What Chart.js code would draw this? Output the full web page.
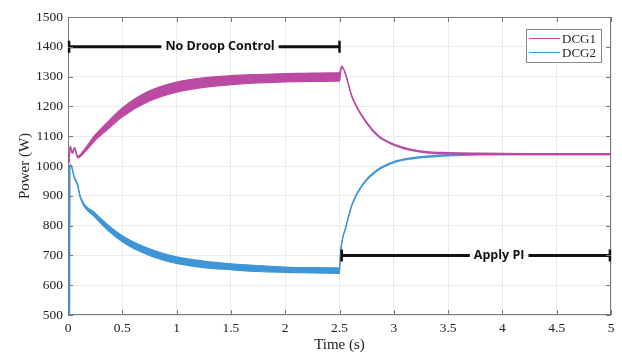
<!DOCTYPE html>
<html>
<head>
<meta charset="utf-8">
<script src="https://cdn.jsdelivr.net/npm/chart.js@4.4.1/dist/chart.umd.min.js"></script>
<style>
  html, body { margin: 0; padding: 0; background: #fff; }
  #wrap { width: 622px; height: 358px; }
</style>
</head>
<body>
<div id="wrap"><canvas id="chartgraph"></canvas></div>
<script>
// DCG1 (magenta) - centre of the oscillation band and its half width (W)
var t1 = [0.01, 0.02, 0.04, 0.06, 0.09, 0.15, 0.25, 0.35, 0.5, 0.75, 1.0, 1.25, 1.5, 1.75, 2.0, 2.25, 2.49, 2.5, 2.52, 2.62, 2.74, 2.86, 3.0, 3.15, 3.3, 3.5, 3.8, 4.2, 5.0];
var p1 = [1010, 1065, 1045, 1060, 1030, 1050, 1095, 1130, 1180, 1235, 1265, 1280, 1288, 1293, 1296, 1298, 1299, 1299, 1333, 1228, 1150, 1100, 1072, 1055, 1046, 1043, 1041, 1040, 1040];
var w1 = [0, 3, 3, 3, 3, 5, 9, 12, 15, 17, 17, 16, 15, 14, 14, 14, 14, 14, 2, 2, 2, 2, 2, 2, 2, 2, 2, 2, 2];

// DCG2 (blue)
var t2 = [0.014, 0.016, 0.022, 0.06, 0.09, 0.11, 0.25, 0.5, 0.75, 1.0, 1.25, 1.5, 1.75, 2.0, 2.25, 2.49, 2.5, 2.51, 2.56, 2.62, 2.71, 2.83, 3.0, 3.17, 3.33, 3.5, 3.8, 4.2, 5.0];
var p2 = [500, 1000, 1005, 960, 935, 900, 835, 756, 711, 684, 670, 662, 656, 652, 650, 649, 649, 710, 797, 875, 936, 981, 1013, 1026, 1032, 1036, 1039, 1040, 1040];
var w2 = [0, 0, 0, 2, 3, 3, 7, 10, 11, 11, 11, 10, 10, 9, 9, 9, 9, 2, 2, 2, 2, 2, 2, 2, 2, 2, 2, 2, 2];

var xTicks = [0, 0.5, 1, 1.5, 2, 2.5, 3, 3.5, 4, 4.5, 5];
var yTicks = [500, 600, 700, 800, 900, 1000, 1100, 1200, 1300, 1400, 1500];

// annotations (arrows)
var annoText = ['No Droop Control', 'Apply PI'];
var annoY = [1400, 700];
var annoFrom = [0.01, 2.52];
var annoTo = [2.5, 4.99];
var annoMid = [1.40, 3.97];

var magenta = '#bb4aa3';
var blue = '#3f96d6';

function band(t, p, w, sign) {
  var out = [];
  for (var i = 0; i < t.length; i++) out.push({x: t[i], y: p[i] + sign * w[i]});
  return out;
}

var boxPlugin = {
  id: 'boxPlugin',
  beforeDatasetsDraw: function(chart) {
    // frame first so the traces sit over it
    var ctx = chart.ctx, a = chart.chartArea;
    ctx.save();
    ctx.strokeStyle = '#7a7a7a';
    ctx.lineWidth = 1;
    ctx.strokeRect(a.left + 0.5, a.top + 0.5, a.right - a.left - 1, a.bottom - a.top - 1);
    ctx.restore();
  },
  afterDatasetsDraw: function(chart) {
    var ctx = chart.ctx, a = chart.chartArea;
    var xs = chart.scales.x, ys = chart.scales.y;
    ctx.save();
    // annotations
    ctx.strokeStyle = '#111';
    ctx.fillStyle = '#111';
    ctx.font = 'bold 12.5px "Open Sans", sans-serif';
    ctx.textAlign = 'center';
    ctx.textBaseline = 'middle';
    for (var i = 0; i < annoText.length; i++) {
      var y = ys.getPixelForValue(annoY[i]);
      var x0 = xs.getPixelForValue(annoFrom[i]);
      var x1 = xs.getPixelForValue(annoTo[i]);
      var xm = xs.getPixelForValue(annoMid[i]);
      var tw = ctx.measureText(annoText[i]).width / 2 + 4;
      ctx.lineWidth = 3;
      ctx.beginPath();
      ctx.moveTo(x0, y); ctx.lineTo(xm - tw, y);
      ctx.moveTo(xm + tw, y); ctx.lineTo(x1, y);
      ctx.stroke();
      ctx.lineWidth = 2.5;
      ctx.beginPath();
      ctx.moveTo(x0, y - 6); ctx.lineTo(x0, y + 6);
      ctx.moveTo(x1, y - 6); ctx.lineTo(x1, y + 6);
      ctx.stroke();
      ctx.fillText(annoText[i], xm, y);
    }
    // inward ticks
    ctx.strokeStyle = '#7a7a7a';
    ctx.lineWidth = 1;
    ctx.beginPath();
    xTicks.forEach(function(v) {
      var x = Math.round(xs.getPixelForValue(v)) + 0.5;
      ctx.moveTo(x, a.bottom); ctx.lineTo(x, a.bottom - 5);
      ctx.moveTo(x, a.top); ctx.lineTo(x, a.top + 5);
    });
    yTicks.forEach(function(v) {
      var y = Math.round(ys.getPixelForValue(v)) + 0.5;
      ctx.moveTo(a.left, y); ctx.lineTo(a.left + 5, y);
      ctx.moveTo(a.right, y); ctx.lineTo(a.right - 5, y);
    });
    ctx.stroke();
    // legend
    var lx = 526, ly = 29, lw = 75, lh = 33;
    ctx.fillStyle = '#fff';
    ctx.fillRect(lx, ly, lw, lh);
    ctx.strokeStyle = '#8a8a8a';
    ctx.strokeRect(lx + 0.5, ly + 0.5, lw, lh);
    ctx.font = '13px "Liberation Serif", serif';
    ctx.textAlign = 'left';
    ctx.fillStyle = '#222';
    [['DCG1', magenta], ['DCG2', blue]].forEach(function(e, k) {
      var yy = ly + 9.5 + k * 14;
      ctx.strokeStyle = e[1];
      ctx.lineWidth = 1;
      ctx.beginPath();
      ctx.moveTo(lx + 3, yy); ctx.lineTo(lx + 34, yy);
      ctx.stroke();
      ctx.fillText(e[0], lx + 36, yy + 1);
    });
    ctx.restore();
  }
};

var tickFont = { family: '"Liberation Serif", serif', size: 13.5 };

var ctx = document.getElementById('chartgraph').getContext('2d');
var chart = new Chart(ctx, {
  type: 'line',
  data: {
    datasets: [{
      label: 'DCG1',
      data: band(t1, p1, w1, 1),
      borderColor: magenta,
      borderWidth: 1.2,
      fill: false
    }, {
      label: 'DCG1 low',
      data: band(t1, p1, w1, -1),
      borderColor: magenta,
      backgroundColor: magenta,
      borderWidth: 1.2,
      fill: '-1'
    }, {
      label: 'DCG2',
      data: band(t2, p2, w2, 1),
      borderColor: blue,
      borderWidth: 1.2,
      fill: false
    }, {
      label: 'DCG2 low',
      data: band(t2, p2, w2, -1),
      borderColor: blue,
      backgroundColor: blue,
      borderWidth: 1.2,
      fill: '-1'
    }]
  },
  options: {
    responsive: true,
    maintainAspectRatio: false,
    animation: false,
    elements: { point: { radius: 0 }, line: { cubicInterpolationMode: 'monotone' } },
    layout: { padding: { left: 0, top: 17, right: 11, bottom: 0 } },
    plugins: { legend: { display: false }, tooltip: { enabled: false } },
    scales: {
      x: {
        type: 'linear',
        min: 0, max: 5,
        afterBuildTicks: function(s) { s.ticks = xTicks.map(function(v) { return {value: v}; }); },
        afterFit: function(s) { s.height = 43; },
        grid: { color: '#ebebeb', drawTicks: false },
        border: { display: false },
        ticks: { padding: 5, color: '#222', font: tickFont, maxRotation: 0,
                 callback: function(v) { return String(v); } },
        title: { display: true, text: 'Time (s)', color: '#222', padding: { top: 0, bottom: 4 }, font: { family: '"Liberation Serif", serif', size: 15 } }
      },
      y: {
        min: 500, max: 1500,
        afterBuildTicks: function(s) { s.ticks = yTicks.map(function(v) { return {value: v}; }); },
        afterFit: function(s) { s.width = 68; },
        grid: { color: '#ebebeb', drawTicks: false },
        border: { display: false },
        ticks: { padding: 5, color: '#222', font: tickFont,
                 callback: function(v) { return String(v); } },
        title: { display: true, text: 'Power (W)', color: '#222', padding: { top: 16, bottom: 0 }, font: { family: '"Liberation Serif", serif', size: 15 } }
      }
    }
  },
  plugins: [boxPlugin]
});
</script>
</body>
</html>
